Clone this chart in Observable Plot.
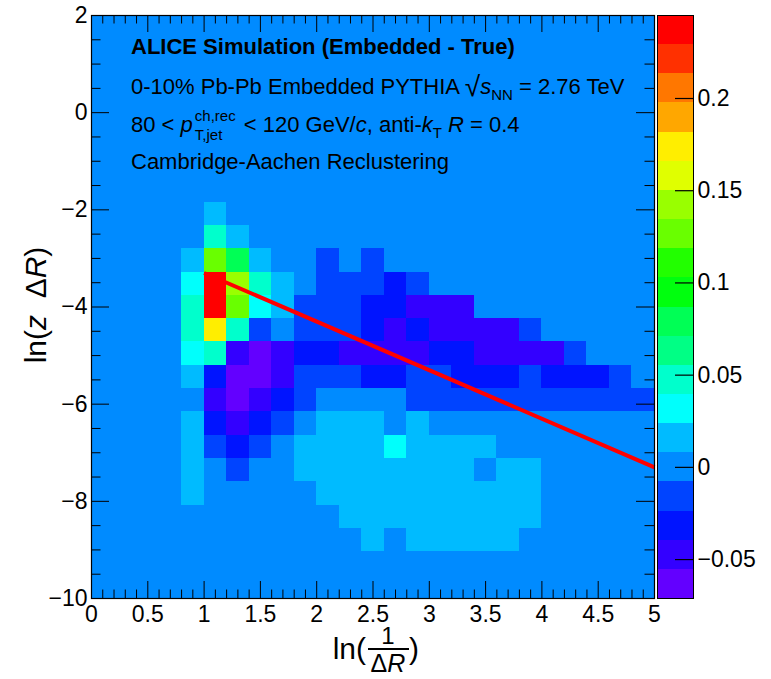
<!DOCTYPE html>
<html><head><meta charset="utf-8">
<script src="https://cdn.jsdelivr.net/npm/d3@7"></script>
<script src="https://cdn.jsdelivr.net/npm/@observablehq/plot@0.6"></script>
<style>
body{margin:0;background:#fff;}
#wrap{position:relative;width:771px;height:679px;}
#wrap svg{position:absolute;left:0;top:0;}
</style></head><body><div id="wrap"></div>
<script>
const FONT = '"Liberation Sans", Arial, Helvetica, sans-serif';

// bin edges of the 2D histogram
const xEdges = [0,0.2,0.4,0.6,0.8,1.0,1.2,1.4,1.6,1.8,2.0,2.2,2.4,2.6,2.8,3.0,3.2,3.4,3.6,3.8,4.0,4.2,4.4,4.6,4.8,5.0];
const yEdges = [2,1.52,1.04,0.56,0.08,-0.40,-0.88,-1.36,-1.84,-2.32,-2.80,-3.28,-3.76,-4.24,-4.72,-5.20,-5.68,-6.16,-6.64,-7.12,-7.60,-8.08,-8.56,-9.04,-9.52,-10];

// bin contents (Embedded - True), rows from top (y=2) to bottom (y=-10), columns x=0..5
const zRows = [
 [0,0,0,0,0,0,0,0,0,0,0,0,0,0,0,0,0,0,0,0,0,0,0,0,0],
 [0,0,0,0,0,0,0,0,0,0,0,0,0,0,0,0,0,0,0,0,0,0,0,0,0],
 [0,0,0,0,0,0,0,0,0,0,0,0,0,0,0,0,0,0,0,0,0,0,0,0,0],
 [0,0,0,0,0,0,0,0,0,0,0,0,0,0,0,0,0,0,0,0,0,0,0,0,0],
 [0,0,0,0,0,0,0,0,0,0,0,0,0,0,0,0,0,0,0,0,0,0,0,0,0],
 [0,0,0,0,0,0,0,0,0,0,0,0,0,0,0,0,0,0,0,0,0,0,0,0,0],
 [0,0,0,0,0,0,0,0,0,0,0,0,0,0,0,0,0,0,0,0,0,0,0,0,0],
 [0,0,0,0,0,0,0,0,0,0,0,0,0,0,0,0,0,0,0,0,0,0,0,0,0],
 [0,0,0,0,0,0.016,0,0,0,0,0,0,0,0,0,0,0,0,0,0,0,0,0,0,0],
 [0,0,0,0,0,0.047,0.016,0,0,0,0,0,0,0,0,0,0,0,0,0,0,0,0,0,0],
 [0,0,0,0,0.016,0.126,0.079,0.016,0,0,-0.016,0,-0.016,0,0,0,0,0,0,0,0,0,0,0,0],
 [0,0,0,0,0.032,0.237,0.142,0.047,0.016,0,-0.016,-0.016,-0.016,-0.032,-0.016,0,0,0,0,0,0,0,0,0,0],
 [0,0,0,0,0.047,0.237,0.126,0.032,0.016,-0.016,-0.016,-0.016,-0.032,-0.032,-0.047,-0.047,-0.047,0,0,0,0,0,0,0,0],
 [0,0,0,0,0.047,0.174,0.047,-0.016,0,-0.016,-0.016,-0.016,-0.032,-0.047,-0.032,-0.047,-0.047,-0.047,-0.047,-0.016,0,0,0,0,0],
 [0,0,0,0,0.032,0.047,-0.047,-0.063,-0.047,-0.032,-0.032,-0.047,-0.047,-0.047,-0.047,-0.032,-0.032,-0.047,-0.047,-0.047,-0.047,-0.016,0,0,0],
 [0,0,0,0,0.016,-0.032,-0.063,-0.063,-0.047,-0.016,-0.016,-0.016,-0.032,-0.032,-0.016,-0.016,-0.032,-0.032,-0.032,-0.016,-0.032,-0.032,-0.032,-0.016,0],
 [0,0,0,0,0,-0.047,-0.063,-0.047,-0.032,-0.016,0,0,0,0,-0.016,-0.016,-0.016,-0.016,-0.016,-0.016,-0.016,-0.016,-0.016,-0.016,-0.016],
 [0,0,0,0,0.016,-0.032,-0.047,-0.032,-0.016,0,0.016,0.016,0.016,0,0.016,0,0,0,0,0,0,0,0,0,0],
 [0,0,0,0,0.016,-0.016,-0.032,-0.016,0,0.016,0.016,0.016,0.016,0.032,0.016,0.016,0.016,0.016,0,0,0,0,0,0,0],
 [0,0,0,0,0.016,0,-0.016,0,0,0.016,0.016,0.016,0.016,0.016,0.016,0.016,0.016,0,0.016,0.016,0,0,0,0,0],
 [0,0,0,0,0.016,0,0,0,0,0,0.016,0.016,0.016,0.016,0.016,0.016,0.016,0.016,0.016,0.016,0,0,0,0,0],
 [0,0,0,0,0,0,0,0,0,0,0,0.016,0.016,0.016,0.016,0.016,0.016,0.016,0.016,0.016,0,0,0,0,0],
 [0,0,0,0,0,0,0,0,0,0,0,0,0.016,0,0.016,0.016,0.016,0.016,0.016,0,0,0,0,0,0],
 [0,0,0,0,0,0,0,0,0,0,0,0,0,0,0,0,0,0,0,0,0,0,0,0,0],
 [0,0,0,0,0,0,0,0,0,0,0,0,0,0,0,0,0,0,0,0,0,0,0,0,0]
];

// colour palette (20 contour levels, bottom to top) and z range
const palette = ["#6300ff","#3300ff","#0014ff","#0044ff","#008bff","#00bbff","#00fffc","#00ffcc","#00ff85","#00ff55",
                 "#00ff0e","#22ff00","#69ff00","#99ff00","#e0ff00","#ffee00","#ffa700","#ff7700","#ff3000","#ff0000"];
const zMin = -0.0711, zMax = 0.245;
const zTicks = [-0.05, 0, 0.05, 0.1, 0.15, 0.2];

// axis ticks
const xMajor = [0,0.5,1,1.5,2,2.5,3,3.5,4,4.5,5];
const xMinor = [0.1,0.2,0.3,0.4,0.6,0.7,0.8,0.9,1.1,1.2,1.3,1.4,1.6,1.7,1.8,1.9,2.1,2.2,2.3,2.4,2.6,2.7,2.8,2.9,3.1,3.2,3.3,3.4,3.6,3.7,3.8,3.9,4.1,4.2,4.3,4.4,4.6,4.7,4.8,4.9];
const yMajor = [-10,-8,-6,-4,-2,0,2];
const yMinor = [-9.5,-9,-8.5,-7.5,-7,-6.5,-5.5,-5,-4.5,-3.5,-3,-2.5,-1.5,-1,-0.5,0.5,1,1.5];

// z_cut = 0.1 line
const cutX = [1.0, 5.0];
const cutY = [-3.30, -7.30];

const fmt = d3.format("~g");
const nLev = palette.length;
const step = (zMax - zMin) / nLev;
const thresholds = d3.range(1, nLev).map(k => zMin + k * step);
const colorOpt = {type: "threshold", domain: thresholds, range: palette};

const cells = [];
zRows.forEach((row, r) => row.forEach((v, c) => cells.push({x1: xEdges[c], x2: xEdges[c + 1], y1: yEdges[r + 1], y2: yEdges[r], v})));
const cutLine = cutX.map((x, i) => ({x, y: cutY[i]}));

const W = 771, H = 679;
const mL = 91, mR = 117, mT = 15, mB = 81;
const fW = W - mL - mR, fH = H - mT - mB;
const majL = 17, minL = 8.5;

const main = Plot.plot({
  width: W, height: H,
  marginLeft: mL, marginRight: mR, marginTop: mT, marginBottom: mB,
  x: {domain: [0, 5]},
  y: {domain: [-10, 2]},
  color: colorOpt,
  style: {fontFamily: FONT, background: "white", color: "black", overflow: "visible"},
  marks: [
    Plot.rect(cells, {x1: "x1", x2: "x2", y1: "y1", y2: "y2", fill: "v", shapeRendering: "crispEdges"}),
    Plot.line(cutLine, {x: "x", y: "y", stroke: "#ff0000", strokeWidth: 4, strokeLinecap: "butt"}),
    Plot.tickX(xMajor, {x: d => d, insetTop: fH - majL, stroke: "black"}),
    Plot.tickX(xMajor, {x: d => d, insetBottom: fH - majL, stroke: "black"}),
    Plot.tickX(xMinor, {x: d => d, insetTop: fH - minL, stroke: "black"}),
    Plot.tickX(xMinor, {x: d => d, insetBottom: fH - minL, stroke: "black"}),
    Plot.tickY(yMajor, {y: d => d, insetRight: fW - majL - 1, stroke: "black"}),
    Plot.tickY(yMajor, {y: d => d, insetLeft: fW - majL - 1, stroke: "black"}),
    Plot.tickY(yMinor, {y: d => d, insetRight: fW - minL - 1, stroke: "black"}),
    Plot.tickY(yMinor, {y: d => d, insetLeft: fW - minL - 1, stroke: "black"}),
    Plot.axisX({ticks: xMajor, tickSize: 0, tickPadding: 7, fontSize: 23, label: null, tickFormat: fmt}),
    Plot.axisY({ticks: yMajor, tickSize: 0, tickPadding: 4, fontSize: 23, label: null, tickFormat: fmt}),
    Plot.frame({stroke: "black", strokeWidth: 1.2})
  ]
});
document.getElementById("wrap").appendChild(main);

const bands = d3.range(nLev).map(k => ({lo: zMin + k * step, hi: zMin + (k + 1) * step, mid: zMin + (k + 0.5) * step}));
const cbar = Plot.plot({
  width: W, height: H,
  marginLeft: 657, marginRight: 78, marginTop: mT, marginBottom: mB,
  x: {domain: [0, 1], axis: null},
  y: {domain: [zMin, zMax]},
  color: colorOpt,
  style: {fontFamily: FONT, background: "transparent", color: "black", overflow: "visible"},
  marks: [
    Plot.rect(bands, {x1: 0, x2: 1, y1: "lo", y2: "hi", fill: "mid", shapeRendering: "crispEdges"}),
    Plot.ruleY(zTicks, {y: d => d, x1: 0.5, x2: 1, stroke: "black", strokeWidth: 1.2}),
    Plot.axisY({anchor: "right", ticks: zTicks, tickSize: 0, tickPadding: 4, fontSize: 23, label: null, tickFormat: fmt}),
    Plot.frame({stroke: "black", strokeWidth: 1})
  ]
});
document.getElementById("wrap").appendChild(cbar);

// ---- annotations (real text) ----
const svg = d3.select(main);
const ann = svg.append("g").attr("font-family", FONT).attr("font-size", 22).attr("fill", "black").attr("text-anchor", "start");

ann.append("text").attr("x", 131).attr("y", 54).attr("font-weight", "bold").text("ALICE Simulation (Embedded - True)");

const t2 = ann.append("text").attr("x", 131).attr("y", 94);
t2.append("tspan").text("0-10% Pb-Pb Embedded PYTHIA ");
t2.append("tspan").attr("font-size", 28).attr("dy", 2).text("√");
t2.append("tspan").attr("font-style", "italic").attr("dy", -2).text("s");
t2.append("tspan").attr("font-size", 15).attr("dy", 6).text("NN");
t2.append("tspan").attr("dy", -6).text(" = 2.76 TeV");

const t3 = ann.append("text").attr("x", 131).attr("y", 132);
t3.append("tspan").text("80 < ");
t3.append("tspan").attr("font-style", "italic").text("p");
const sup = t3.append("tspan").attr("font-size", 15).attr("dx", 2).attr("dy", -11).text("ch,rec");
const wSup = sup.node().getComputedTextLength();
const sub = t3.append("tspan").attr("font-size", 15).attr("dx", -wSup).attr("dy", 19).text("T,jet");
const wSub = sub.node().getComputedTextLength();
t3.append("tspan").attr("dx", Math.max(0, wSup - wSub) + 2).attr("dy", -8).text(" < 120 GeV/");
t3.append("tspan").attr("font-style", "italic").text("c");
t3.append("tspan").text(", anti-");
t3.append("tspan").attr("font-style", "italic").text("k");
t3.append("tspan").attr("font-size", 15).attr("dy", 6).text("T");
t3.append("tspan").attr("dy", -6).text(" ");
t3.append("tspan").attr("font-style", "italic").text("R");
t3.append("tspan").text(" = 0.4");

ann.append("text").attr("x", 131).attr("y", 169).text("Cambridge-Aachen Reclustering");

// y axis title
const yt = ann.append("text").attr("transform", "translate(46,305) rotate(-90)").attr("text-anchor", "middle").attr("font-size", 30);
yt.append("tspan").text("ln(");
yt.append("tspan").attr("font-style", "italic").text("z");
yt.append("tspan").text("  Δ");
yt.append("tspan").attr("font-style", "italic").text("R");
yt.append("tspan").text(")");

// x axis title: ln(1/ΔR)
const xg = ann.append("g").attr("font-size", 30);
xg.append("text").attr("x", 366).attr("y", 659).attr("text-anchor", "end").text("ln(");
xg.append("text").attr("x", 388).attr("y", 644).attr("text-anchor", "middle").attr("font-size", 24).text("1");
xg.append("line").attr("x1", 368).attr("x2", 409).attr("y1", 649).attr("y2", 649).attr("stroke", "black").attr("stroke-width", 2);
const dr = xg.append("text").attr("x", 388).attr("y", 672).attr("text-anchor", "middle").attr("font-size", 25);
dr.append("tspan").text("Δ");
dr.append("tspan").attr("font-style", "italic").text("R");
xg.append("text").attr("x", 409).attr("y", 659).text(")");
</script></body></html>
